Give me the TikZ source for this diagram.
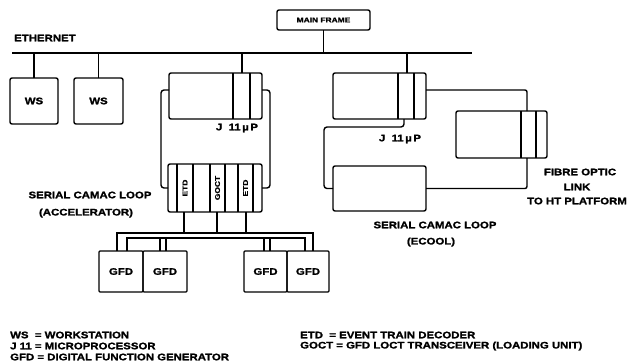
\documentclass[tikz,border=0pt]{standalone}
\usepackage{fontspec}
\newfontfamily\blk{Liberation Sans}[FakeStretch=1.2, BoldFeatures={FakeBold=1.6}]
\usetikzlibrary{calc}
\tikzset{
  box/.style={draw, line width=1.4pt, inner sep=0pt, outer sep=0pt, rounded corners=2pt},
  wire/.style={line width=1.4pt},
  lab/.style={inner sep=0pt, font=\blk\bfseries\fontsize{9.5}{10}\selectfont},
  small/.style={inner sep=0pt, font=\blk\bfseries\fontsize{7}{7}\selectfont},
}
\begin{document}
\begin{tikzpicture}[x=1pt,y=-1pt]
\useasboundingbox[fill=white] (0,0) rectangle (627,364);

% Ethernet
\coordinate (ethL) at (12,53);
\coordinate (ethR) at (472,53);
\node[lab, anchor=west] (ethlab) at (14,38) {ETHERNET};

% boxes
\node[box, small, minimum width=93pt, minimum height=20pt] (mf) at (323.5,20) {MAIN FRAME};
\node[box, lab, minimum width=48pt, minimum height=46pt] (ws1) at (34,101) {WS};
\node[box, lab, minimum width=49pt, minimum height=46pt] (ws2) at (98.5,101) {WS};
\node[box, minimum width=93pt, minimum height=46pt] (j1) at (215.5,96) {};
\node[box, minimum width=93pt, minimum height=46pt] (j2) at (379.5,96) {};
\node[box, minimum width=91pt, minimum height=47pt] (fib) at (501.5,134.5) {};
\node[box, minimum width=93pt, minimum height=45pt] (ecool) at (379.5,188.5) {};
\node[box, minimum width=94pt, minimum height=48pt] (crate) at (215,188) {};

\node[box, lab, rounded corners=1pt, minimum width=44pt, minimum height=41pt] (gfd1) at (121,271.5) {GFD};
\node[box, lab, rounded corners=1pt, minimum width=44pt, minimum height=41pt] (gfd2) at (165,271.5) {GFD};
\node[box, lab, rounded corners=1pt, minimum width=43pt, minimum height=41pt] (gfd3) at (265.5,271.5) {GFD};
\node[box, lab, rounded corners=1pt, minimum width=42pt, minimum height=41pt] (gfd4) at (308,271.5) {GFD};

% dividers in J11 / fibre boxes
\foreach \n/\a/\b in {j1/64/81, j2/65/81, fib/65/80}{
  \draw[line width=1.2pt] ([xshift=\a pt]\n.north west) -- ([xshift=\a pt]\n.south west);
  \draw[line width=1.2pt] ([xshift=\b pt]\n.north west) -- ([xshift=\b pt]\n.south west);
}
% crate slots
\foreach \a in {9,25,42,57,70,85}{
  \draw[line width=1.1pt] ([xshift=\a pt]crate.north west) -- ([xshift=\a pt]crate.south west);
}
\node[small, rotate=90] (etd1) at (185,188) {ETD};
\node[small, rotate=90] (goct) at (217.5,188) {GOCT};
\node[small, rotate=90] (etd2) at (245.5,188) {ETD};

% ethernet connections
\draw[wire] (ethL) -- (ethR);
\draw[wire] (mf.south) -- (mf.south |- ethL);
\draw[wire] (ws1.north) -- (ws1.north |- ethL);
\draw[wire] (ws2.north) -- (ws2.north |- ethL);
\coordinate (j1t) at ([xshift=73pt]j1.north west);
\coordinate (j2t) at ([xshift=74pt]j2.north west);
\draw[wire] (j1t) -- (j1t |- ethL);
\draw[wire] (j2t) -- (j2t |- ethL);

% accelerator loop frame
\coordinate (j1l) at ([yshift=-17pt]j1.north west);
\coordinate (j1r) at ([yshift=-17pt]j1.north east);
\draw[wire, rounded corners=3pt] (j1l) -- ++(-8,0) |- (crate.west);
\draw[wire, rounded corners=3pt] (j1r) -- ++(8,0) |- (crate.east);

% ecool loop
\coordinate (j2b) at ([xshift=71pt]j2.south west);
\draw[wire, rounded corners=3pt] (j2b) -- ++(0,8) -| ($(ecool.west)+(-9,0)$) -- (ecool.west);
\coordinate (j2r) at ([yshift=-17pt]j2.north east);
\coordinate (fibt) at ([xshift=71pt]fib.north west);
\coordinate (fibb) at ([xshift=71pt]fib.south west);
\draw[wire, rounded corners=2pt] (j2r) -| (fibt);
\draw[wire, rounded corners=2pt] (fibb) |- (ecool.east);

% crate to GFD bus
\coordinate (busL) at (117,233);
\coordinate (busR) at (313,233);
\coordinate (ibL) at (127,238);
\coordinate (ibR) at (305,238);
\foreach \a [count=\i] in {16,49,78}{
  \coordinate (d\i) at ([xshift=\a pt]crate.south west);
  \draw[wire] (d\i) -- (d\i |- busL);
}
\draw[line width=1.2pt] (busL |- gfd1.north) -- (busL) -- (busR) -- (busR |- gfd4.north);
\draw[line width=1.2pt] (ibL |- gfd1.north) -- (ibL) -- (ibR) -- (ibR |- gfd4.north);
\coordinate (t1) at (160,238);
\coordinate (t2) at (166,238);
\coordinate (t3) at (264,238);
\coordinate (t4) at (270,238);
\draw[line width=1.2pt] (t1) -- (t1 |- gfd2.north);
\draw[line width=1.2pt] (t2) -- (t2 |- gfd2.north);
\draw[line width=1.2pt] (t3) -- (t3 |- gfd3.north);
\draw[line width=1.2pt] (t4) -- (t4 |- gfd3.north);

% labels
\node[lab] (jl1) at (237,128) {J\ \ 11\,µ\,P};
\node[lab] (jl2) at (400,139) {J\ \ 11\,µ\,P};
\node[lab] (acc1) at (90,195) {SERIAL CAMAC LOOP};
\node[lab] (acc2) at (86,213) {(ACCELERATOR)};
\node[lab] (ec1) at (435,225) {SERIAL CAMAC LOOP};
\node[lab] (ec2) at (431,242) {(ECOOL)};
\node[lab] (fo1) at (580,172) {FIBRE OPTIC};
\node[lab] (fo2) at (577,187) {LINK};
\node[lab] (fo3) at (577,201) {TO HT PLATFORM};

% legend
\node[lab, anchor=west] (lg1) at (10,335) {WS\ \ = WORKSTATION};
\node[lab, anchor=west] (lg2) at (10,346) {J 11 = MICROPROCESSOR};
\node[lab, anchor=west] (lg3) at (10,357) {GFD = DIGITAL FUNCTION GENERATOR};
\node[lab, anchor=west] (lg4) at (300,335) {ETD\ \ = EVENT TRAIN DECODER};
\node[lab, anchor=west] (lg5) at (300,346) {GOCT = GFD LOCT TRANSCEIVER (LOADING UNIT)};
\end{tikzpicture}
\end{document}
